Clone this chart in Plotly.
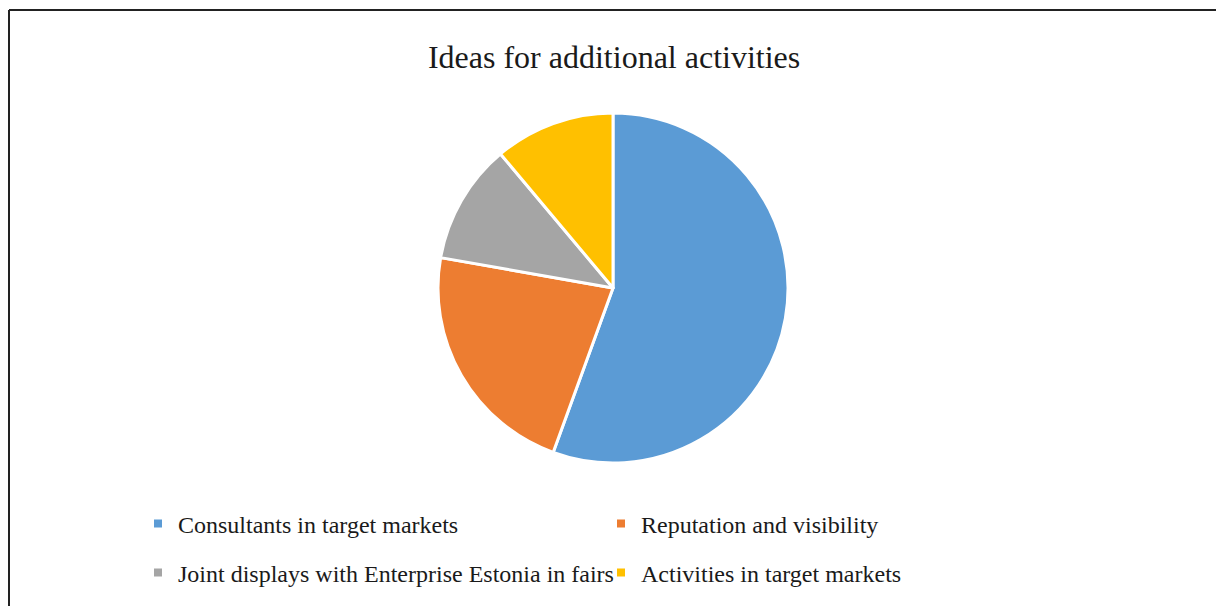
import plotly.graph_objects as go

categories = ["Consultants in target markets", "Reputation and visibility",
              "Joint displays with Enterprise Estonia in fairs", "Activities in target markets"]
values = [5, 2, 1, 1]
colors = ["#5B9BD5", "#ED7D31", "#A5A5A5", "#FFC000"]
title = "Ideas for additional activities"

W, H = 1216, 606
cx, cy, r = 613, 288, 175

fig = go.Figure()
fig.add_trace(go.Pie(
    labels=categories, values=values, sort=False, direction="clockwise", rotation=0,
    marker=dict(colors=colors, line=dict(color="white", width=3)),
    textinfo="none", hoverinfo="label+percent", showlegend=False,
    domain=dict(x=[(cx - r) / W, (cx + r) / W], y=[(H - cy - r) / H, (H - cy + r) / H]),
))

# legend entries (square markers) split into two rows
for i, (cat, col) in enumerate(zip(categories, colors)):
    fig.add_trace(go.Scatter(
        x=[None], y=[None], mode="markers", name=cat,
        marker=dict(symbol="square", size=8, color=col),
        legend="legend" if i < 2 else "legend2",
    ))

legend_common = dict(orientation="h", xanchor="left", yanchor="middle",
                     font=dict(family="Liberation Serif", size=24, color="#1a1a1a"),
                     bgcolor="rgba(0,0,0,0)", entrywidth=418, entrywidthmode="pixels",
                     itemsizing="trace", borderwidth=0)
fig.update_layout(
    width=W, height=H,
    margin=dict(l=0, r=0, t=0, b=0),
    paper_bgcolor="white", plot_bgcolor="white",
    title=dict(text=title, x=0.505, xanchor="center", y=1 - 57 / H, yanchor="middle",
               font=dict(family="Liberation Serif", size=32, color="#1a1a1a")),
    legend=dict(x=138 / W, y=1 - 524 / H, **legend_common),
    legend2=dict(x=138 / W, y=1 - 573 / H, **legend_common),
    xaxis=dict(visible=False), yaxis=dict(visible=False),
    shapes=[
        dict(type="line", xref="paper", yref="paper", x0=9 / W, x1=1, y0=1 - 10 / H, y1=1 - 10 / H,
             line=dict(color="#222", width=2)),
        dict(type="line", xref="paper", yref="paper", x0=9 / W, x1=9 / W, y0=0, y1=1 - 10 / H,
             line=dict(color="#222", width=2)),
    ],
)

fig.write_html("out.html")
